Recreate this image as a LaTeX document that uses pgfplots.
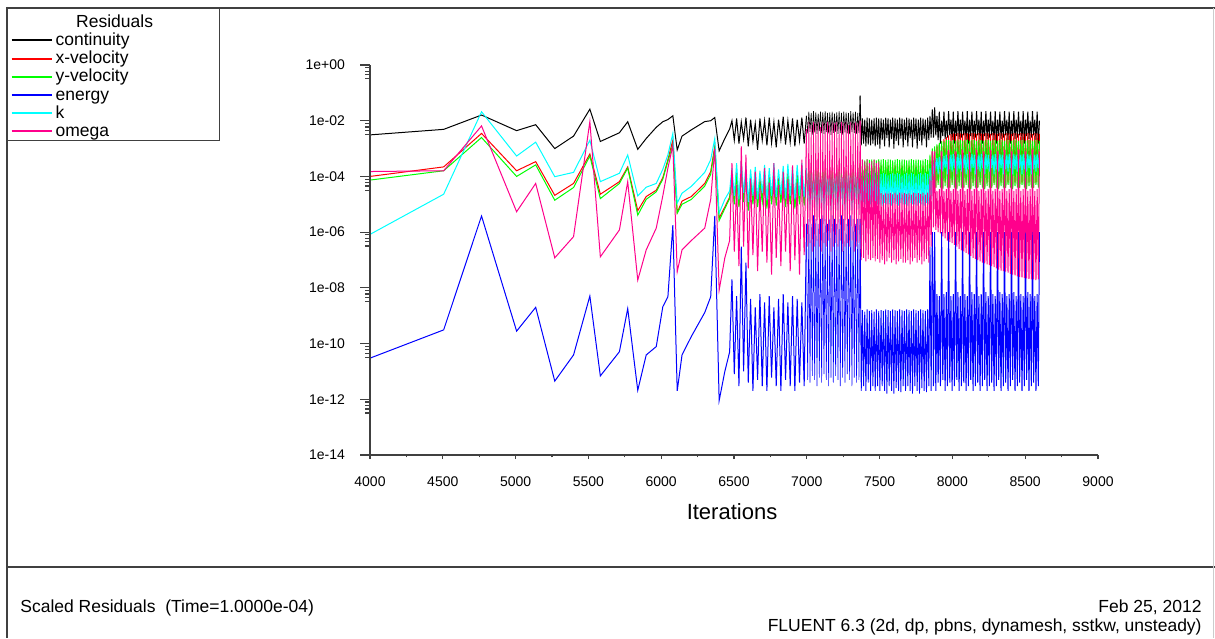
\documentclass[border=0pt]{standalone}
\usepackage{fontspec}
\setmainfont{Liberation Sans}
\usepackage{pgfplots}
\usepackage{pgfplotstable}
\pgfplotsset{compat=1.18}

\definecolor{rescont}{RGB}{0,0,0}
\definecolor{resxvel}{RGB}{255,0,0}
\definecolor{resyvel}{RGB}{0,255,0}
\definecolor{resener}{RGB}{0,0,255}
\definecolor{resk}{RGB}{0,255,255}
\definecolor{resomega}{RGB}{255,0,140}
\definecolor{framegray}{RGB}{64,64,64}

% Scaled residual history: iteration, continuity, x-velocity, y-velocity, energy, k, omega
\pgfplotstableread{
it c xv yv en k om
4000 3.1e-3 1.0e-4 7.4e-5 3.0e-11 8.3e-7 1.5e-4
4506 4.9e-3 2.2e-4 1.6e-4 3.1e-10 2.3e-5 1.6e-4
4766 1.6e-2 3.5e-3 2.5e-3 3.8e-6 2.1e-2 6.5e-3
5007 4.4e-3 1.6e-4 1.0e-4 2.8e-10 5.4e-4 5.4e-6
5138 7.2e-3 3.4e-4 2.6e-4 2.0e-9 1.7e-3 5.6e-5
5269 1.0e-3 2.1e-5 1.4e-5 4.5e-12 9.8e-5 1.2e-7
5398 2.8e-3 5.6e-5 4.0e-5 3.9e-11 1.4e-4 6.9e-7
5510 2.6e-2 6.4e-4 5.4e-4 5.1e-9 2.0e-3 9.3e-3
5582 1.8e-3 2.3e-5 1.6e-5 6.9e-12 6.5e-5 1.3e-7
5713 3.7e-3 6.5e-5 5.6e-5 5.1e-11 1.3e-4 1.2e-6
5770 9.2e-3 2.2e-4 2.0e-4 1.8e-9 5.9e-4 6.5e-5
5839 9.4e-4 5.9e-6 4.1e-6 2.1e-12 2.0e-5 1.9e-8
5897 2.3e-3 1.9e-5 1.5e-5 3.9e-11 4.1e-5 2.3e-7
5966 5.8e-3 3.2e-5 2.8e-5 7.8e-11 5.6e-5 1.4e-6
6011 9.2e-3 9.0e-5 8.0e-5 2.1e-9 1.8e-4 2.0e-5
6046 1.1e-2 4.0e-4 3.5e-4 4.8e-9 6.0e-4 2.0e-4
6080 1.5e-2 2.0e-3 1.4e-3 1.8e-6 3.5e-3 1.3e-3
6110 8.9e-4 5.0e-6 4.8e-6 2.0e-12 1.1e-5 3.8e-8
6143 2.8e-3 1.3e-5 1.0e-5 3.9e-11 2.5e-5 2.3e-7
6207 4.7e-3 1.9e-5 1.5e-5 1.8e-10 4.4e-5 5.0e-7
6299 9.3e-3 5.6e-5 4.5e-5 1.3e-9 1.4e-4 1.4e-6
6340 1.0e-2 1.5e-4 1.2e-4 4.8e-9 4.0e-4 1.5e-5
6368 1.3e-2 1.2e-3 1.0e-3 3.8e-6 2.3e-3 1.0e-3
6398 8.3e-4 3.2e-6 2.6e-6 9.0e-13 4.8e-6 8.3e-9
6437 2.3e-3 8.0e-6 7.0e-6 1.0e-11 1.5e-5 1.2e-7
6470 5.0e-3 1.8e-5 1.6e-5 5.0e-11 3.0e-5 5.0e-7
6486 1.0e-2 1.0e-4 8e-5 2e-8 2e-4 3e-4
6502 2.0e-3 1.2e-5 1e-5 8e-12 2e-5 2e-7
6518 1.2e-2 1.4e-4 1.1e-4 5e-9 3e-4 5e-5
6534 1.5e-3 9e-6 8e-6 3e-12 1.5e-5 6e-8
6550 9e-3 2.0e-4 1.6e-4 3e-7 3.5e-4 1.2e-3
6566 2.2e-3 1.5e-5 1.2e-5 1e-11 2.5e-5 3e-7
6582 1.3e-2 1.2e-4 1e-4 8e-8 2.5e-4 6e-4
6598 1.2e-3 8e-6 6e-6 4e-12 1.2e-5 5e-8
6614 1.1e-2 9e-5 7e-5 4e-9 1.8e-4 8e-5
6630 1.8e-3 1.3e-5 1e-5 2e-12 2e-5 1.5e-7
6646 8e-3 1.1e-4 9e-5 2e-9 2.2e-4 1.5e-4
6662 9e-4 1e-5 8e-6 5e-12 1.5e-5 4e-8
6678 1.2e-2 8e-5 6e-5 6e-9 1.6e-4 4e-5
6694 2.0e-3 1.5e-5 1.2e-5 3e-12 2.5e-5 2e-7
6710 1.0e-2 1.3e-4 1e-4 3e-9 2.6e-4 2e-4
6726 1.3e-3 9e-6 7e-6 2e-12 1.4e-5 8e-8
6742 1.3e-2 1.0e-4 8e-5 5e-9 2e-4 6e-5
6758 1.6e-3 1.2e-5 1e-5 6e-12 2e-5 3e-8
6774 9e-3 1.5e-4 1.2e-4 2e-9 3e-4 3e-4
6790 1.1e-3 1.1e-5 9e-6 3e-12 1.8e-5 1.2e-7
6806 1.1e-2 9e-5 7e-5 4e-9 1.8e-4 5e-5
6822 2.1e-3 1.4e-5 1.1e-5 2e-12 2.2e-5 6e-8
6838 1.4e-2 1.2e-4 9e-5 6e-9 2.4e-4 1.5e-4
6854 1.4e-3 1e-5 8e-6 5e-12 1.6e-5 2e-7
6870 1.0e-2 1.4e-4 1.1e-4 3e-9 2.8e-4 8e-5
6886 1.7e-3 1.3e-5 1e-5 3e-12 2e-5 4e-8
6902 1.2e-2 1.1e-4 9e-5 5e-9 2.2e-4 2.5e-4
6918 1.2e-3 9e-6 7e-6 2e-12 1.5e-5 1e-7
6934 1.1e-2 1.3e-4 1e-4 4e-9 2.6e-4 6e-5
6950 1.9e-3 1.2e-5 1e-5 4e-12 2e-5 3e-8
6966 1.3e-2 1.6e-4 1.3e-4 3e-9 3e-4 4e-4
6982 1.5e-3 1.1e-5 9e-6 3e-12 1.8e-5 1.5e-7
6998 1.5e-2 1.8e-4 1.4e-4 2e-6 2e-4 5e-3
7006 3.5e-3 1.5e-5 1.2e-5 5e-12 7e-6 3e-7
7014 2.1e-2 2.0e-4 1.5e-4 3e-6 1.0e-4 9e-3
7022 4.0e-3 1.3e-5 1.0e-5 4e-12 6e-6 4e-7
7030 1.9e-2 2.2e-4 1.6e-4 2e-6 1.2e-4 7e-3
7038 3.2e-3 1.6e-5 1.3e-5 7e-12 8e-6 2e-7
7046 2.2e-2 1.9e-4 1.4e-4 4e-6 9e-5 9e-3
7054 3.8e-3 1.4e-5 1.1e-5 5e-12 7e-6 3e-7
7062 2.0e-2 2.1e-4 1.6e-4 3e-6 1.1e-4 8e-3
7070 3.4e-3 1.5e-5 1.2e-5 3e-12 6e-6 5e-7
7078 1.8e-2 2.0e-4 1.5e-4 2e-6 1.0e-4 9e-3
7086 4.2e-3 1.3e-5 1.0e-5 6e-12 8e-6 3e-7
7094 2.1e-2 2.2e-4 1.7e-4 3e-6 1.2e-4 6e-3
7102 3.6e-3 1.6e-5 1.2e-5 4e-12 7e-6 2e-7
7110 2.0e-2 1.9e-4 1.5e-4 4e-6 9e-5 9e-3
7118 3.3e-3 1.4e-5 1.1e-5 8e-12 6e-6 4e-7
7126 2.2e-2 2.1e-4 1.6e-4 3e-6 1.1e-4 8e-3
7134 3.9e-3 1.5e-5 1.2e-5 5e-12 7e-6 3e-7
7142 1.9e-2 2.0e-4 1.5e-4 2e-6 1.0e-4 9e-3
7150 3.5e-3 1.3e-5 1.0e-5 3e-12 8e-6 5e-7
7158 2.0e-2 2.2e-4 1.6e-4 3e-6 1.2e-4 7e-3
7166 3.1e-3 1.6e-5 1.3e-5 6e-12 6e-6 2e-7
7174 2.1e-2 1.9e-4 1.4e-4 4e-6 9e-5 9e-3
7182 3.7e-3 1.4e-5 1.1e-5 4e-12 7e-6 3e-7
7190 1.8e-2 2.1e-4 1.6e-4 3e-6 1.1e-4 8e-3
7198 4.0e-3 1.5e-5 1.2e-5 7e-12 8e-6 4e-7
7206 2.0e-2 2.0e-4 1.5e-4 2e-6 1.0e-4 9e-3
7214 3.4e-3 1.3e-5 1.0e-5 5e-12 6e-6 3e-7
7222 2.2e-2 2.2e-4 1.7e-4 3e-6 1.2e-4 6e-3
7230 3.6e-3 1.6e-5 1.2e-5 3e-12 7e-6 5e-7
7238 1.9e-2 1.9e-4 1.5e-4 4e-6 9e-5 9e-3
7246 3.2e-3 1.4e-5 1.1e-5 6e-12 8e-6 2e-7
7254 2.1e-2 2.1e-4 1.6e-4 3e-6 1.1e-4 8e-3
7262 3.8e-3 1.5e-5 1.2e-5 4e-12 6e-6 3e-7
7270 2.0e-2 2.0e-4 1.5e-4 2e-6 1.0e-4 9e-3
7278 3.5e-3 1.3e-5 1.0e-5 8e-12 7e-6 4e-7
7286 1.9e-2 2.2e-4 1.6e-4 3e-6 1.2e-4 7e-3
7294 3.3e-3 1.6e-5 1.3e-5 5e-12 8e-6 3e-7
7302 2.2e-2 1.9e-4 1.4e-4 4e-6 9e-5 9e-3
7310 3.9e-3 1.4e-5 1.1e-5 3e-12 6e-6 5e-7
7318 2.0e-2 2.1e-4 1.6e-4 3e-6 1.1e-4 8e-3
7326 3.6e-3 1.5e-5 1.2e-5 6e-12 7e-6 2e-7
7334 2.1e-2 2.0e-4 1.5e-4 2e-6 1.0e-4 9e-3
7342 3.4e-3 1.3e-5 1.0e-5 4e-12 8e-6 3e-7
7350 1.9e-2 2.2e-4 1.7e-4 3e-6 1.2e-4 8e-3
7358 3.7e-3 1.5e-5 1.2e-5 5e-12 7e-6 4e-7
7366 8.0e-2 3.0e-4 2.5e-4 3e-6 1.5e-4 1.0e-2
7374 1.3e-3 2.0e-5 2.5e-5 2e-12 1.0e-5 1.0e-7
7382 1.2e-2 2.2e-4 4.0e-4 1.6e-9 1.5e-4 4.0e-4
7390 1.5e-3 1.8e-5 2.2e-5 3e-12 1.2e-5 1.2e-7
7398 1.1e-2 2.0e-4 3.8e-4 1.4e-9 1.4e-4 3.5e-4
7406 1.2e-3 2.0e-5 2.6e-5 2e-12 1.0e-5 9e-8
7414 1.3e-2 2.3e-4 4.2e-4 1.7e-9 1.6e-4 4.0e-4
7422 1.4e-3 1.7e-5 2.3e-5 4e-12 1.1e-5 1.1e-7
7430 1.2e-2 2.1e-4 3.9e-4 1.5e-9 1.5e-4 3.0e-4
7438 1.3e-3 1.9e-5 2.5e-5 2e-12 1.0e-5 1.0e-7
7446 1.1e-2 2.2e-4 4.1e-4 1.6e-9 1.4e-4 3.5e-4
7454 1.5e-3 1.8e-5 2.4e-5 3e-12 1.2e-5 1.2e-7
7462 1.2e-2 2.0e-4 4.0e-4 1.4e-9 1.5e-4 4.0e-4
7470 1.2e-3 2.0e-5 2.6e-5 2e-12 1.1e-5 9e-8
7478 1.3e-2 2.3e-4 3.8e-4 1.7e-9 1.6e-4 3.0e-4
7486 1.4e-3 1.7e-5 2.3e-5 3e-12 1.0e-5 1.1e-7
7494 1.2e-2 2.1e-4 4.2e-4 1.5e-9 1.5e-4 3.5e-4
7502 1.0e-3 1.5e-5 3.0e-5 2.0e-12 1.0e-5 8e-8
7510 1.2e-2 2.5e-4 4.0e-4 1.6e-9 1.2e-4 2.5e-5
7518 2.0e-3 1.4e-5 2.8e-5 3.0e-12 9e-6 1.0e-7
7526 1.1e-2 2.4e-4 4.2e-4 1.5e-9 1.3e-4 2.2e-5
7534 1.2e-3 1.6e-5 3.2e-5 2.0e-12 1.1e-5 7e-8
7542 1.3e-2 2.6e-4 3.9e-4 1.7e-9 1.2e-4 2.6e-5
7550 2.4e-3 1.5e-5 3.0e-5 1.6e-12 1.0e-5 9e-8
7558 1.2e-2 2.5e-4 4.1e-4 1.6e-9 1.1e-4 2.4e-5
7566 1.1e-3 1.4e-5 2.9e-5 3.0e-12 1.0e-5 1.2e-7
7574 1.1e-2 2.4e-4 4.0e-4 1.5e-9 1.2e-4 2.5e-5
7582 2.2e-3 1.6e-5 3.1e-5 2.0e-12 9e-6 8e-8
7590 1.3e-2 2.6e-4 3.8e-4 1.7e-9 1.3e-4 2.3e-5
7598 1.0e-3 1.5e-5 3.0e-5 1.6e-12 1.1e-5 1.0e-7
7606 1.2e-2 2.5e-4 4.0e-4 1.6e-9 1.2e-4 2.5e-5
7614 1.9e-3 1.3e-5 2.7e-5 2.5e-12 1.0e-5 7e-8
7622 1.1e-2 2.4e-4 4.2e-4 1.5e-9 1.3e-4 2.2e-5
7630 1.3e-3 1.5e-5 3.0e-5 2.0e-12 9e-6 9e-8
7638 1.3e-2 2.6e-4 3.9e-4 1.7e-9 1.2e-4 2.6e-5
7646 2.3e-3 1.6e-5 3.2e-5 1.8e-12 1.1e-5 1.1e-7
7654 1.2e-2 2.5e-4 4.1e-4 1.6e-9 1.1e-4 2.4e-5
7662 1.1e-3 1.4e-5 2.9e-5 3.0e-12 1.0e-5 8e-8
7670 1.1e-2 2.4e-4 4.0e-4 1.5e-9 1.2e-4 2.5e-5
7678 2.0e-3 1.5e-5 3.0e-5 2.0e-12 1.0e-5 8e-8
7686 1.3e-2 2.6e-4 3.8e-4 1.7e-9 1.3e-4 2.3e-5
7694 1.2e-3 1.4e-5 2.8e-5 3.0e-12 9e-6 1.0e-7
7702 1.2e-2 2.5e-4 4.0e-4 1.6e-9 1.2e-4 2.5e-5
7710 2.4e-3 1.6e-5 3.2e-5 2.0e-12 1.1e-5 7e-8
7718 1.1e-2 2.4e-4 4.2e-4 1.5e-9 1.3e-4 2.2e-5
7726 1.1e-3 1.5e-5 3.0e-5 1.6e-12 1.0e-5 9e-8
7734 1.3e-2 2.6e-4 3.9e-4 1.7e-9 1.2e-4 2.6e-5
7742 2.2e-3 1.4e-5 2.9e-5 3.0e-12 1.0e-5 1.2e-7
7750 1.2e-2 2.5e-4 4.1e-4 1.6e-9 1.1e-4 2.4e-5
7758 1.0e-3 1.6e-5 3.1e-5 2.0e-12 9e-6 8e-8
7766 1.1e-2 2.4e-4 4.0e-4 1.5e-9 1.2e-4 2.5e-5
7774 1.9e-3 1.5e-5 3.0e-5 1.6e-12 1.1e-5 1.0e-7
7782 1.3e-2 2.6e-4 3.8e-4 1.7e-9 1.3e-4 2.3e-5
7790 1.3e-3 1.3e-5 2.7e-5 2.5e-12 1.0e-5 7e-8
7798 1.2e-2 2.5e-4 4.0e-4 1.6e-9 1.2e-4 2.5e-5
7806 2.3e-3 1.5e-5 3.0e-5 2.0e-12 9e-6 9e-8
7814 1.1e-2 2.4e-4 4.2e-4 1.5e-9 1.3e-4 2.2e-5
7822 1.1e-3 1.6e-5 3.2e-5 1.8e-12 1.1e-5 1.1e-7
7830 1.3e-2 2.6e-4 3.9e-4 1.7e-9 1.2e-4 2.6e-5
7838 2.0e-3 1.4e-5 2.9e-5 3.0e-12 1.0e-5 8e-8
7846 1.5e-2 4.0e-4 6.0e-4 3.0e-7 2.0e-4 1.0e-4
7854 2.5e-3 2.0e-5 3.5e-5 2.0e-12 1.5e-5 3e-7
7862 2.5e-2 8.0e-4 1.0e-3 1.0e-6 3.0e-4 8.0e-4
7870 2.5e-3 5e-5 4e-5 3e-12 1.5e-4 1.5e-6
7878 3.0e-2 1.0e-3 1.2e-3 1e-6 4e-4 8e-4
7886 3.0e-3 4e-5 4e-5 2e-12 2e-4 1.2e-6
7894 1.5e-2 1.2e-3 1.4e-3 6e-9 4.5e-4 3e-5
7902 2.0e-3 6e-5 5e-5 4e-12 1.2e-4 1.0e-6
7910 2.1e-2 1.5e-3 1.6e-3 5e-9 5e-4 3.5e-5
7918 1.5e-3 5e-5 4e-5 3e-12 1.8e-4 9e-7
7926 1.0e-2 1.8e-3 1.8e-3 1e-6 5e-4 8e-4
7934 2.8e-3 4e-5 3.5e-5 5e-12 1.5e-4 7e-7
7942 2.1e-2 2.2e-3 1.8e-3 6e-9 5.5e-4 3e-5
7950 2.2e-3 6e-5 4.5e-5 2e-12 2e-4 6e-7
7958 1.0e-2 2.6e-3 2.0e-3 7e-9 6e-4 3.5e-5
7966 2.5e-3 5e-5 4e-5 3e-12 1.2e-4 5e-7
7974 2.2e-2 3.0e-3 2.0e-3 1e-6 6e-4 9e-4
7982 3.0e-3 4e-5 4e-5 4e-12 1.8e-4 4.5e-7
7990 1.1e-2 3.3e-3 1.9e-3 5e-9 6e-4 3e-5
7998 2.0e-3 6e-5 5e-5 2e-12 1.5e-4 4e-7
8006 2.1e-2 3.5e-3 2.0e-3 6e-9 6.5e-4 3.5e-5
8014 1.5e-3 5e-5 4e-5 3e-12 2e-4 3.5e-7
8022 1.0e-2 3.4e-3 1.9e-3 1e-6 6e-4 8e-4
8030 2.8e-3 4e-5 3.5e-5 5e-12 1.2e-4 3e-7
8038 2.2e-2 3.6e-3 2.1e-3 7e-9 6.5e-4 3e-5
8046 2.2e-3 6e-5 4.5e-5 2e-12 1.8e-4 2.5e-7
8054 1.1e-2 3.5e-3 2.0e-3 5e-9 6e-4 3.5e-5
8062 2.5e-3 5e-5 4e-5 3e-12 1.5e-4 2.2e-7
8070 2.1e-2 3.4e-3 1.9e-3 1e-6 6.5e-4 9e-4
8078 3.0e-3 4e-5 4e-5 4e-12 2e-4 2e-7
8086 1.0e-2 3.6e-3 2.0e-3 6e-9 6e-4 3e-5
8094 2.0e-3 6e-5 5e-5 2e-12 1.2e-4 1.8e-7
8102 2.2e-2 3.5e-3 2.1e-3 5e-9 6.5e-4 3.5e-5
8110 1.5e-3 5e-5 4e-5 3e-12 1.8e-4 1.6e-7
8118 1.1e-2 3.4e-3 1.9e-3 1e-6 6e-4 8e-4
8126 2.8e-3 4e-5 3.5e-5 5e-12 1.5e-4 1.4e-7
8134 2.1e-2 3.6e-3 2.0e-3 7e-9 6.5e-4 3e-5
8142 2.2e-3 6e-5 4.5e-5 2e-12 2e-4 1.2e-7
8150 1.0e-2 3.5e-3 2.0e-3 6e-9 6e-4 3.5e-5
8158 2.5e-3 5e-5 4e-5 3e-12 1.2e-4 1.1e-7
8166 2.2e-2 3.4e-3 1.9e-3 1e-6 6.5e-4 9e-4
8174 3.0e-3 4e-5 4e-5 4e-12 1.8e-4 1e-7
8182 1.1e-2 3.6e-3 2.1e-3 5e-9 6e-4 3e-5
8190 2.0e-3 6e-5 5e-5 2e-12 1.5e-4 9e-8
8198 2.1e-2 3.5e-3 2.0e-3 6e-9 6.5e-4 3.5e-5
8206 1.5e-3 5e-5 4e-5 3e-12 2e-4 8e-8
8214 1.0e-2 3.4e-3 1.9e-3 1e-6 6e-4 8e-4
8222 2.8e-3 4e-5 3.5e-5 5e-12 1.2e-4 7.5e-8
8230 2.2e-2 3.6e-3 2.0e-3 7e-9 6.5e-4 3e-5
8238 2.2e-3 6e-5 4.5e-5 2e-12 1.8e-4 7e-8
8246 1.1e-2 3.5e-3 2.1e-3 5e-9 6e-4 3.5e-5
8254 2.5e-3 5e-5 4e-5 3e-12 1.5e-4 6.5e-8
8262 2.1e-2 3.4e-3 1.9e-3 1e-6 6.5e-4 9e-4
8270 3.0e-3 4e-5 4e-5 4e-12 2e-4 6e-8
8278 1.0e-2 3.6e-3 2.0e-3 6e-9 6e-4 3e-5
8286 2.0e-3 6e-5 5e-5 2e-12 1.2e-4 5.5e-8
8294 2.2e-2 3.5e-3 2.1e-3 5e-9 6.5e-4 3.5e-5
8302 1.5e-3 5e-5 4e-5 3e-12 1.8e-4 5e-8
8310 1.1e-2 3.4e-3 1.9e-3 1e-6 6e-4 8e-4
8318 2.8e-3 4e-5 3.5e-5 5e-12 1.5e-4 4.5e-8
8326 2.1e-2 3.6e-3 2.0e-3 7e-9 6.5e-4 3e-5
8334 2.2e-3 6e-5 4.5e-5 2e-12 2e-4 4.2e-8
8342 1.0e-2 3.5e-3 2.0e-3 6e-9 6e-4 3.5e-5
8350 2.5e-3 5e-5 4e-5 3e-12 1.2e-4 4e-8
8358 2.2e-2 3.4e-3 1.9e-3 1e-6 6.5e-4 9e-4
8366 3.0e-3 4e-5 4e-5 4e-12 1.8e-4 3.8e-8
8374 1.1e-2 3.6e-3 2.1e-3 5e-9 6e-4 3e-5
8382 2.0e-3 6e-5 5e-5 2e-12 1.5e-4 3.5e-8
8390 2.1e-2 3.5e-3 2.0e-3 6e-9 6.5e-4 3.5e-5
8398 1.5e-3 5e-5 4e-5 3e-12 2e-4 3.2e-8
8406 1.0e-2 3.4e-3 1.9e-3 1e-6 6e-4 8e-4
8414 2.8e-3 4e-5 3.5e-5 5e-12 1.2e-4 3e-8
8422 2.2e-2 3.6e-3 2.0e-3 7e-9 6.5e-4 3e-5
8430 2.2e-3 6e-5 4.5e-5 2e-12 1.8e-4 2.8e-8
8438 1.1e-2 3.5e-3 2.1e-3 5e-9 6e-4 3.5e-5
8446 2.5e-3 5e-5 4e-5 3e-12 1.5e-4 2.6e-8
8454 2.1e-2 3.4e-3 1.9e-3 1e-6 6.5e-4 9e-4
8462 3.0e-3 4e-5 4e-5 4e-12 2e-4 2.5e-8
8470 1.0e-2 3.6e-3 2.0e-3 6e-9 6e-4 3e-5
8478 2.0e-3 6e-5 5e-5 2e-12 1.2e-4 2.4e-8
8486 2.2e-2 3.5e-3 2.1e-3 5e-9 6.5e-4 3.5e-5
8494 1.5e-3 5e-5 4e-5 3e-12 1.8e-4 2.3e-8
8502 1.1e-2 3.4e-3 1.9e-3 1e-6 6e-4 8e-4
8510 2.8e-3 4e-5 3.5e-5 5e-12 1.5e-4 2.2e-8
8518 2.1e-2 3.6e-3 2.0e-3 7e-9 6.5e-4 3e-5
8526 2.2e-3 6e-5 4.5e-5 2e-12 2e-4 2.1e-8
8534 1.0e-2 3.5e-3 2.0e-3 6e-9 6e-4 3.5e-5
8542 2.5e-3 5e-5 4e-5 3e-12 1.2e-4 2e-8
8550 2.2e-2 3.4e-3 1.9e-3 1e-6 6.5e-4 9e-4
8558 3.0e-3 4e-5 4e-5 4e-12 1.8e-4 2e-8
8566 1.1e-2 3.6e-3 2.1e-3 5e-9 6e-4 3e-5
8574 2.0e-3 6e-5 5e-5 2e-12 1.5e-4 1.9e-8
8582 2.1e-2 3.5e-3 2.0e-3 6e-9 6.5e-4 3.5e-5
8590 1.5e-3 5e-5 4e-5 3e-12 2e-4 2e-8
8598 1.0e-2 3.4e-3 1.9e-3 1e-6 6e-4 8e-4
}\residuals

\begin{document}
\begin{tikzpicture}
\path[use as bounding box] (0,0) rectangle (607.5pt,319pt);
\fill[white] (0,0) rectangle (607.5pt,319pt);
% window frame and footer separator
\draw[framegray, line width=1.1pt] (3.5pt,315pt) -- (607.5pt,315pt);
\draw[framegray, line width=0.8pt] (3.5pt,315.5pt) -- (3.5pt,0pt);
\draw[framegray, line width=0.8pt] (3.5pt,35.5pt) -- (607.5pt,35.5pt);
\draw[black!20, line width=0.6pt] (606.7pt,315pt) -- (606.7pt,0pt);

% residual curves, x axis and legend
\begin{axis}[
  at={(185pt,91.5pt)}, anchor=south west,
  scale only axis, width=364pt, height=195pt,
  xmin=4000, xmax=9000,
  ymode=log, ymin=1e-14, ymax=1,
  axis x line=bottom, hide y axis,
  axis line style={-, framegray, line width=0.6pt},
  tick align=outside,
  tick style={framegray, line width=0.6pt},
  major tick length=2pt, minor tick length=1.2pt,
  xtick={4000,4500,5000,5500,6000,6500,7000,7500,8000,8500,9000},
  xticklabels={4000,4500,5000,5500,6000,6500,7000,7500,8000,8500,9000},
  minor xtick={4250,4750,5250,5750,6250,6750,7250,7750,8250,8750},
  xticklabel style={font=\fontsize{7}{8}\selectfont, yshift=-5.5pt},
  legend style={at={(rel axis cs:-0.4986,1.1462)}, anchor=north west,
    draw=framegray, line width=0.6pt, fill=white,
    inner xsep=1.5pt, inner ysep=1.15pt, column sep=1.5pt, row sep=0pt,
    font=\fontsize{8.75}{9}\selectfont,
    cells={anchor=base west},
    nodes={inner sep=0pt, text height=8.2pt, text depth=0.9pt}},
  legend image code/.code={\draw[#1, line width=1pt] (0pt,2.5pt) -- (20pt,2.5pt);},
]
\addlegendimage{empty legend}
\addlegendentry{\makebox[80.5pt][l]{\hspace{10.3pt}Residuals}}
% each history in four pieces: sparse start, short time steps, transition block, last block
\addplot[rescont, line width=0.5pt, restrict x to domain=4000:7000] table[x=it, y=c] {\residuals};
\addlegendentry{continuity}
\addplot[rescont, line width=0.3pt, restrict x to domain=6998:7366, forget plot] table[x=it, y=c] {\residuals};
\addplot[rescont, line width=0.45pt, restrict x to domain=7366:7866, forget plot] table[x=it, y=c] {\residuals};
\addplot[rescont, line width=0.5pt, restrict x to domain=7862:8600, forget plot] table[x=it, y=c] {\residuals};
\addplot[resxvel, line width=0.5pt, restrict x to domain=4000:7000] table[x=it, y=xv] {\residuals};
\addlegendentry{x-velocity}
\addplot[resxvel, line width=0.3pt, restrict x to domain=6998:7366, forget plot] table[x=it, y=xv] {\residuals};
\addplot[resxvel, line width=0.45pt, restrict x to domain=7366:7866, forget plot] table[x=it, y=xv] {\residuals};
\addplot[resxvel, line width=0.5pt, restrict x to domain=7862:8600, forget plot] table[x=it, y=xv] {\residuals};
\addplot[resyvel, line width=0.5pt, restrict x to domain=4000:7000] table[x=it, y=yv] {\residuals};
\addlegendentry{y-velocity}
\addplot[resyvel, line width=0.3pt, restrict x to domain=6998:7366, forget plot] table[x=it, y=yv] {\residuals};
\addplot[resyvel, line width=0.45pt, restrict x to domain=7366:7866, forget plot] table[x=it, y=yv] {\residuals};
\addplot[resyvel, line width=0.5pt, restrict x to domain=7862:8600, forget plot] table[x=it, y=yv] {\residuals};
\addplot[resener, line width=0.5pt, restrict x to domain=4000:7000] table[x=it, y=en] {\residuals};
\addlegendentry{energy}
\addplot[resener, line width=0.3pt, restrict x to domain=6998:7366, forget plot] table[x=it, y=en] {\residuals};
\addplot[resener, line width=0.45pt, restrict x to domain=7366:7866, forget plot] table[x=it, y=en] {\residuals};
\addplot[resener, line width=0.5pt, restrict x to domain=7862:8600, forget plot] table[x=it, y=en] {\residuals};
\addplot[resk, line width=0.5pt, restrict x to domain=4000:7000] table[x=it, y=k] {\residuals};
\addlegendentry{k}
\addplot[resk, line width=0.3pt, restrict x to domain=6998:7366, forget plot] table[x=it, y=k] {\residuals};
\addplot[resk, line width=0.45pt, restrict x to domain=7366:7866, forget plot] table[x=it, y=k] {\residuals};
\addplot[resk, line width=0.5pt, restrict x to domain=7862:8600, forget plot] table[x=it, y=k] {\residuals};
\addplot[resomega, line width=0.5pt, restrict x to domain=4000:7000] table[x=it, y=om] {\residuals};
\addlegendentry{omega}
\addplot[resomega, line width=0.3pt, restrict x to domain=6998:7366, forget plot] table[x=it, y=om] {\residuals};
\addplot[resomega, line width=0.45pt, restrict x to domain=7366:7866, forget plot] table[x=it, y=om] {\residuals};
\addplot[resomega, line width=0.5pt, restrict x to domain=7862:8600, forget plot] table[x=it, y=om] {\residuals};
\end{axis}

% logarithmic y axis with its longer ticks
\begin{axis}[
  at={(185pt,91.5pt)}, anchor=south west,
  scale only axis, width=364pt, height=195pt,
  xmin=4000, xmax=9000,
  ymode=log, ymin=1e-14, ymax=1,
  hide x axis, axis y line=left,
  axis line style={-, framegray, line width=0.6pt},
  tick align=outside,
  tick style={framegray, line width=0.6pt},
  major tick length=5pt, minor tick length=2.5pt,
  ytick={1e-14,1e-12,1e-10,1e-8,1e-6,1e-4,1e-2,1},
  yticklabels={1e-14,1e-12,1e-10,1e-08,1e-06,1e-04,1e-02,1e+00},
  minor ytick={0.8,0.6,0.45,0.32,8e-3,6e-3,4.5e-3,3.2e-3,8e-5,6e-5,4.5e-5,3.2e-5,
    8e-7,6e-7,4.5e-7,3.2e-7,8e-9,6e-9,4.5e-9,3.2e-9,8e-11,6e-11,4.5e-11,3.2e-11,
    8e-13,6e-13,4.5e-13,3.2e-13},
  yticklabel style={font=\fontsize{7}{8}\selectfont, xshift=-4pt},
]
\end{axis}

\node[anchor=base, font=\fontsize{11}{13}\selectfont] at (366pt,59.5pt) {Iterations};
\node[anchor=base west, inner sep=0pt, font=\fontsize{8.75}{10}\selectfont] at (10pt,13pt)
  {Scaled Residuals\ \ (Time=1.0000e-04)};
\node[anchor=base east, inner sep=0pt, font=\fontsize{8.75}{10}\selectfont] at (601pt,13pt)
  {Feb 25, 2012};
\node[anchor=base east, inner sep=0pt, font=\fontsize{8.75}{10}\selectfont] at (601pt,3.5pt)
  {FLUENT 6.3 (2d, dp, pbns, dynamesh, sstkw, unsteady)};
\end{tikzpicture}
\end{document}
